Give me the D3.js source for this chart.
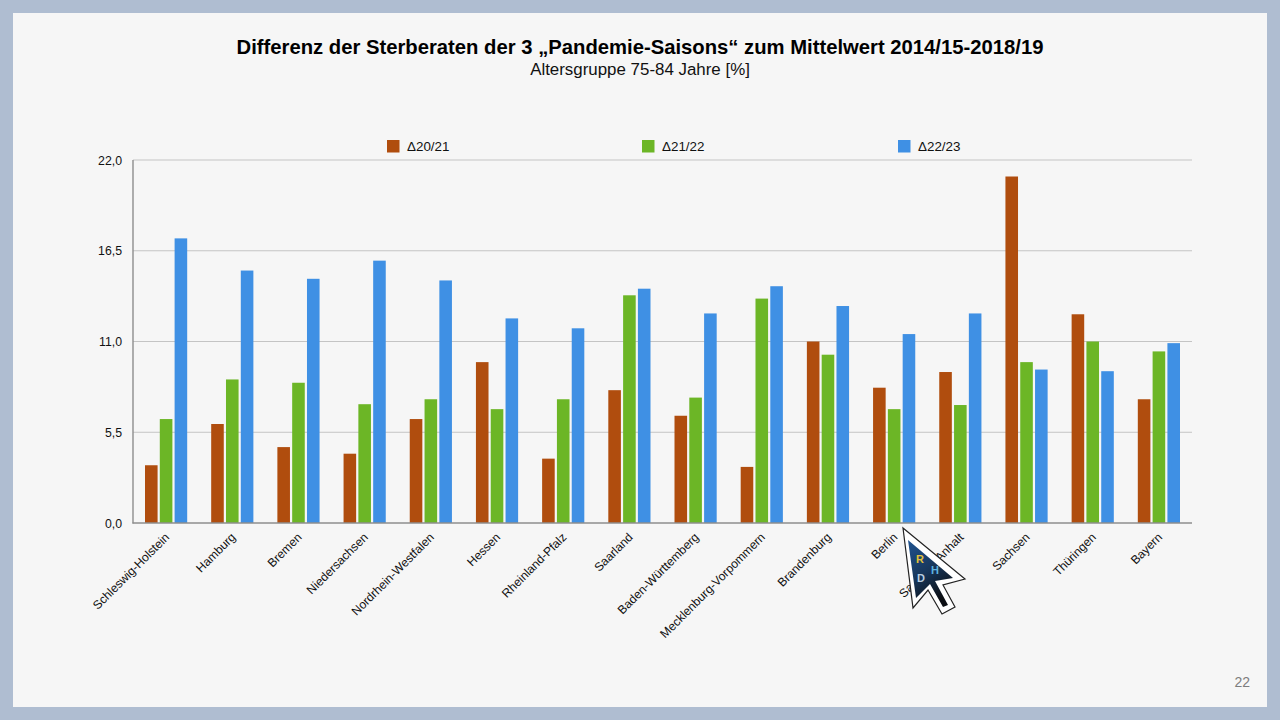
<!DOCTYPE html>
<html><head><meta charset="utf-8">
<script src="https://cdnjs.cloudflare.com/ajax/libs/d3/7.8.5/d3.min.js"></script>
<style>html,body{margin:0;padding:0;background:#afbdd1}svg{display:block}text{font-family:"Liberation Sans",Arial,sans-serif;fill:#111}</style>
</head><body><svg id="c" width="1280" height="720"></svg>
<script>
const categories=["Schleswig-Holstein","Hamburg","Bremen","Niedersachsen","Nordrhein-Westfalen","Hessen","Rheinland-Pfalz","Saarland","Baden-Württemberg","Mecklenburg-Vorpommern","Brandenburg","Berlin","Sachsen-Anhalt","Sachsen","Thüringen","Bayern"];
const d2021=[3.5,6.0,4.6,4.2,6.3,9.75,3.9,8.05,6.5,3.4,11.0,8.2,9.15,21.0,12.65,7.5];
const d2122=[6.3,8.7,8.5,7.2,7.5,6.9,7.5,13.8,7.6,13.6,10.2,6.9,7.15,9.75,11.0,10.4];
const d2223=[17.25,15.3,14.8,15.9,14.7,12.4,11.8,14.2,12.7,14.35,13.15,11.45,12.7,9.3,9.2,10.9];
const seriesNames=["Δ20/21","Δ21/22","Δ22/23"];
const seriesColors=["#b04d0e","#6cb626","#3f90e4"];
const yTicks=[0,5.5,11,16.5,22];
const fmt=v=>v.toFixed(1).replace(".",",");
const svg=d3.select("#c");
svg.append("rect").attr("x",13).attr("y",13).attr("width",1254).attr("height",694).attr("fill","#f6f6f6");
svg.append("text").attr("x",640).attr("y",54).attr("text-anchor","middle").attr("font-size",20.25).attr("font-weight","bold").style("fill","#000").text("Differenz der Sterberaten der 3 „Pandemie-Saisons“ zum Mittelwert 2014/15-2018/19");
svg.append("text").attr("x",640).attr("y",75).attr("text-anchor","middle").attr("font-size",16.9).text("Altersgruppe 75-84 Jahre [%]");
const x=d3.scaleBand().domain(categories).range([133,1192]);
const y=d3.scaleLinear().domain([0,22]).range([523,160]);
const sub=d3.scaleBand().domain(seriesNames).range([12,x.bandwidth()-12]).paddingInner(0.15).paddingOuter(0);
svg.append("g").selectAll("line").data(yTicks.slice(1)).join("line")
 .attr("x1",133).attr("x2",1192).attr("y1",d=>y(d)).attr("y2",d=>y(d)).attr("stroke","#c4c4c4").attr("stroke-width",1);
svg.append("g").selectAll("text").data(yTicks).join("text").attr("x",122).attr("y",d=>y(d)+4.5).attr("text-anchor","end").attr("font-size",12.3).text(fmt);
[d2021,d2122,d2223].forEach((vals,i)=>{
 svg.append("g").selectAll("rect").data(vals).join("rect")
  .attr("x",(d,j)=>x(categories[j])+sub(seriesNames[i])).attr("width",sub.bandwidth())
  .attr("y",d=>y(d)).attr("height",d=>y(0)-y(d)).attr("fill",seriesColors[i]);
});
svg.append("line").attr("x1",133).attr("x2",133).attr("y1",160).attr("y2",523.5).attr("stroke","#8e8e8e").attr("stroke-width",1.4);
svg.append("line").attr("x1",132.5).attr("x2",1192).attr("y1",523).attr("y2",523).attr("stroke","#8e8e8e").attr("stroke-width",1.4);
svg.append("g").selectAll("text").data(categories).join("text")
 .attr("text-anchor","end").attr("font-size",12.1)
 .attr("transform",d=>`translate(${x(d)+x.bandwidth()/2+4},${538}) rotate(-45)`)
 .text(d=>d);
const legendX=[387,642,898];
seriesNames.forEach((n,i)=>{
 svg.append("rect").attr("x",legendX[i]).attr("y",140).attr("width",12.5).attr("height",12.5).attr("fill",seriesColors[i]);
 svg.append("text").attr("x",legendX[i]+20).attr("y",151).attr("font-size",13.4).text(n);
});
svg.append("text").attr("x",1250).attr("y",687).attr("text-anchor","end").attr("font-size",14).style("fill","#7d7d7d").text("22");
const grad=svg.append("defs").append("linearGradient").attr("id","cg").attr("x1",0).attr("y1",0).attr("x2",0.45).attr("y2",1);
grad.append("stop").attr("offset",0).attr("stop-color","#1f5390");
grad.append("stop").attr("offset",0.55).attr("stop-color","#17365a");
grad.append("stop").attr("offset",1).attr("stop-color","#0c0f14");
const cur=svg.append("g");
cur.append("path").attr("d","M903 528 L965 579 L943 585 L955 607 L942 614 L928 590 L913 608 Z").attr("fill","#fff").attr("stroke","#222").attr("stroke-width",1.2);
cur.append("path").attr("d","M908 540 L953 578 L935 581 L948 605 L943 607 L930 584 L916 598 Z").attr("fill","url(#cg)");
[["R",920,563,"#e2c23a"],["D",921,582,"#b8cde0"],["H",935,574,"#5fb4e0"]].forEach(t=>{
 svg.append("text").attr("x",t[1]).attr("y",t[2]).attr("text-anchor","middle").attr("font-size",11).attr("font-weight","bold").style("fill",t[3]).text(t[0]);
});
</script></body></html>
